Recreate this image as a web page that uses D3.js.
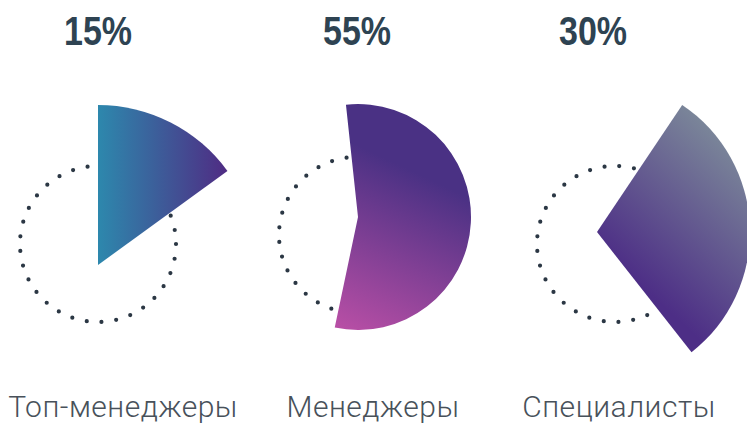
<!DOCTYPE html>
<html>
<head>
<meta charset="utf-8">
<script src="https://cdn.jsdelivr.net/npm/d3@7"></script>
<style>
	body { margin: 0; background: #fff; }
	svg { display: block; }
</style>
</head>
<body>
<div id="container"></div>
<script>
var WIDTH = 747,
	HEIGHT = 423;

// data
var categories = ['Топ-менеджеры', 'Менеджеры', 'Специалисты'];
var shares = [15, 55, 30];
var startShares = [0, -1.7, 9.4]; // where each wedge starts, in % of a full turn

// layout, one entry per category
var layout = [
	{ cx: 98, cy: 244, ax: 98, ay: 265, r: 160, pctX: 98, labelX: 123 },
	{ cx: 357, cy: 235, ax: 358, ay: 217, r: 113, pctX: 357, labelX: 373 },
	{ cx: 615, cy: 244, ax: 597, ay: 232, r: 153, pctX: 593, labelX: 619 }
];

// gradient ends in page coordinates
var gradients = [
	{ x1: 98, y1: 0, x2: 228, y2: 0, stops: [['0%', '#2d88ad'], ['100%', '#4f2b83']] },
	{ x1: 410, y1: 170, x2: 335, y2: 330, stops: [['0%', '#4a3184'], ['100%', '#ba4fa6']] },
	{ x1: 640, y1: 285, x2: 750, y2: 165, stops: [['0%', '#4d2e86'], ['100%', '#7a8599']] }
];

var angle = d3.scaleLinear().domain([0, 100]).range([0, 2 * Math.PI]);

var translate = function (x, y) {
	return 'translate(' + x + ',' + y + ')';
};

var svg = d3.select('#container')
	.append('svg')
	.attr('width', WIDTH)
	.attr('height', HEIGHT);

var defs = svg.append('defs');
gradients.forEach(function (g, i) {
	var l = layout[i];
	// the wedge is drawn translated to its apex, so shift the gradient too
	var lg = defs.append('linearGradient')
		.attr('id', 'grad' + i)
		.attr('gradientUnits', 'userSpaceOnUse')
		.attr('x1', g.x1 - l.ax).attr('y1', g.y1 - l.ay)
		.attr('x2', g.x2 - l.ax).attr('y2', g.y2 - l.ay);
	g.stops.forEach(function (s) {
		lg.append('stop').attr('offset', s[0]).attr('stop-color', s[1]);
	});
});

var DOT_R = 78;
var circ = 2 * Math.PI * DOT_R;

categories.forEach(function (name, i) {
	var l = layout[i];

	// dotted ring
	svg.append('circle')
		.attr('cx', l.cx)
		.attr('cy', l.cy)
		.attr('r', DOT_R)
		.attr('fill', 'none')
		.attr('stroke', '#2b3744')
		.attr('stroke-width', 4.2)
		.attr('stroke-linecap', 'round')
		.attr('stroke-dasharray', '0 ' + (circ / 33));

	// wedge
	var arc = d3.arc()
		.innerRadius(0)
		.outerRadius(l.r)
		.startAngle(angle(startShares[i]))
		.endAngle(angle(startShares[i] + shares[i]));
	svg.append('path')
		.attr('transform', translate(l.ax, l.ay))
		.attr('d', arc())
		.attr('fill', 'url(#grad' + i + ')');

	// percentage, squeezed to look condensed
	svg.append('text')
		.attr('x', l.pctX)
		.attr('y', 45)
		.attr('text-anchor', 'middle')
		.attr('font-family', 'Liberation Sans, Arial, sans-serif')
		.attr('font-weight', 'bold')
		.attr('font-size', 41)
		.attr('textLength', 68)
		.attr('lengthAdjust', 'spacingAndGlyphs')
		.attr('fill', '#2e4352')
		.text(shares[i] + '%');

	// category name
	svg.append('text')
		.attr('x', l.labelX)
		.attr('y', 417)
		.attr('text-anchor', 'middle')
		.attr('font-family', 'Roboto, Lato, sans-serif')
		.attr('font-weight', 300)
		.attr('font-size', 30)
		.attr('letter-spacing', 0.5)
		.attr('fill', '#48515a')
		.text(name);
});
</script>
</body>
</html>
